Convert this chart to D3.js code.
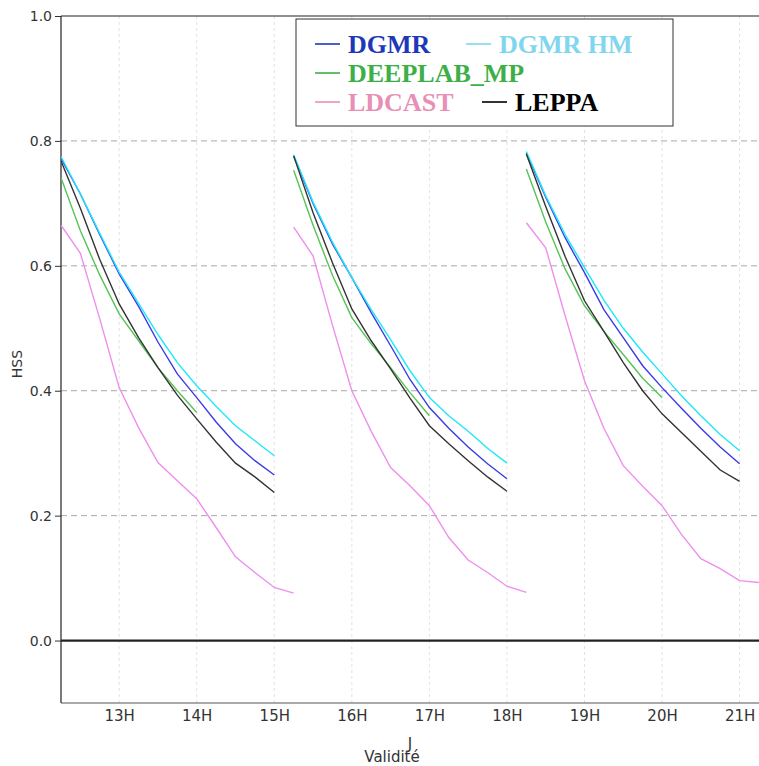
<!DOCTYPE html>
<html>
<head>
<meta charset="utf-8">
<script src="https://cdn.jsdelivr.net/npm/d3@7"></script>
<style>
  body { margin: 0; background: #fff; }
  svg { display: block; }
  .tick text { font-family: "DejaVu Sans", sans-serif; fill: #333; }
</style>
</head>
<body>
<svg id="chart" width="759" height="766"></svg>
<script>
// hours of the day, 15 min steps
const runStarts = [12.25, 15.25, 18.25];
const xTicks = [13, 14, 15, 16, 17, 18, 19, 20, 21];
const yTicks = [0.0, 0.2, 0.4, 0.6, 0.8, 1.0];

const dgmr = [
    [0.772, 0.715, 0.650, 0.587, 0.535, 0.478, 0.427, 0.389, 0.350, 0.315, 0.288, 0.265],
    [0.776, 0.700, 0.635, 0.581, 0.525, 0.472, 0.418, 0.373, 0.340, 0.310, 0.283, 0.259],
    [0.781, 0.710, 0.645, 0.589, 0.530, 0.485, 0.440, 0.405, 0.372, 0.340, 0.310, 0.283]
];
const dgmrHm = [
    [0.775, 0.715, 0.652, 0.590, 0.540, 0.490, 0.445, 0.408, 0.375, 0.344, 0.320, 0.296],
    [0.778, 0.702, 0.638, 0.581, 0.530, 0.482, 0.432, 0.389, 0.360, 0.335, 0.308, 0.284],
    [0.783, 0.712, 0.650, 0.597, 0.545, 0.500, 0.462, 0.427, 0.392, 0.360, 0.330, 0.304]
];
const deeplab = [
    [0.741, 0.656, 0.585, 0.523, 0.480, 0.437, 0.400, 0.365],
    [0.753, 0.665, 0.585, 0.517, 0.475, 0.437, 0.397, 0.360],
    [0.755, 0.670, 0.595, 0.536, 0.495, 0.458, 0.420, 0.389]
];
const ldcast = [
    [0.665, 0.620, 0.515, 0.405, 0.341, 0.285, 0.256, 0.227, 0.181, 0.134, 0.109, 0.085, 0.076],
    [0.662, 0.616, 0.505, 0.400, 0.335, 0.277, 0.248, 0.216, 0.165, 0.129, 0.109, 0.087, 0.077],
    [0.669, 0.629, 0.520, 0.416, 0.340, 0.280, 0.247, 0.216, 0.170, 0.131, 0.115, 0.096, 0.093]
];
const leppa = [
    [0.768, 0.692, 0.610, 0.539, 0.485, 0.437, 0.393, 0.355, 0.318, 0.284, 0.262, 0.237],
    [0.776, 0.685, 0.605, 0.531, 0.480, 0.435, 0.388, 0.344, 0.315, 0.288, 0.262, 0.239],
    [0.779, 0.695, 0.615, 0.544, 0.495, 0.445, 0.400, 0.363, 0.333, 0.303, 0.273, 0.255]
];

const series = [
    {name: 'DGMR', runs: dgmr, line: '#3b3be6', label: '#2038b8'},
    {name: 'DGMR HM', runs: dgmrHm, line: '#1ee8f8', label: '#7fd6ee'},
    {name: 'DEEPLAB_MP', runs: deeplab, line: '#55c455', label: '#3daf47'},
    {name: 'LDCAST', runs: ldcast, line: '#ee8fee', label: '#e88fb6'},
    {name: 'LEPPA', runs: leppa, line: '#333333', label: '#000000'}
];

const margin = {left: 61, top: 16, right: 0, bottom: 63};
const svg = d3.select('#chart');
const width = +svg.attr('width') - margin.left - margin.right;
const height = +svg.attr('height') - margin.top - margin.bottom;

const x = d3.scaleLinear().domain([12.25, 21.25]).range([0, width]);
const y = d3.scaleLinear().domain([-0.1, 1.0]).range([height, 0]);

const g = svg.append('g').attr('transform', `translate(${margin.left},${margin.top})`);

svg.append('defs').append('clipPath').attr('id', 'plotClip')
    .append('rect').attr('width', width).attr('height', height);

// GRID

g.selectAll('.vgrid')
    .data(xTicks)
    .enter()
    .append('line')
    .attr('class', 'vgrid')
    .attr('x1', d => x(d)).attr('x2', d => x(d))
    .attr('y1', 0).attr('y2', height)
    .attr('stroke', '#e2e2e2')
    .attr('stroke-dasharray', '3,3');

g.selectAll('.hgrid')
    .data(yTicks.filter(d => d > 0 && d < 1))
    .enter()
    .append('line')
    .attr('class', 'hgrid')
    .attr('x1', 0).attr('x2', width)
    .attr('y1', d => y(d)).attr('y2', d => y(d))
    .attr('stroke', '#a8a8a8')
    .attr('stroke-dasharray', '6,4');

// AXES

const yAxis = g.append('g')
    .call(d3.axisLeft(y).tickValues(yTicks).tickFormat(d3.format('.1f')).tickSize(6).tickPadding(3));
yAxis.selectAll('text').style('font-size', '14px');
yAxis.select('.domain').remove();
yAxis.selectAll('.tick line').attr('stroke', '#333');

const xAxis = g.append('g')
    .attr('transform', `translate(0,${height})`)
    .call(d3.axisBottom(x).tickValues(xTicks).tickFormat(d => `${d}H`).tickSize(0).tickPadding(7));
xAxis.selectAll('text').style('font-size', '15px');
xAxis.select('.domain').remove();

g.append('line').attr('x1', 0).attr('x2', 0).attr('y1', 0).attr('y2', height)
    .attr('stroke', '#222').attr('stroke-width', 1.2);
g.append('line').attr('x1', 0).attr('x2', width).attr('y1', height).attr('y2', height)
    .attr('stroke', '#555').attr('stroke-width', 1.2);
g.append('line').attr('x1', 0).attr('x2', width).attr('y1', 0).attr('y2', 0)
    .attr('stroke', '#222').attr('stroke-width', 1.2);
g.append('line').attr('x1', 0).attr('x2', width).attr('y1', y(0)).attr('y2', y(0))
    .attr('stroke', '#222').attr('stroke-width', 2.2);

// LINES

const line = d3.line()
    .x(d => x(d.t))
    .y(d => y(d.v));

const lineData = [];
series.forEach(s => {
    s.runs.forEach((vals, r) => {
        lineData.push({
            color: s.line,
            points: vals.map((v, i) => ({t: runStarts[r] + i * 0.25, v: v}))
        });
    });
});

g.append('g').attr('clip-path', 'url(#plotClip)')
    .selectAll('.series')
    .data(lineData)
    .enter()
    .append('path')
    .attr('class', 'series')
    .attr('fill', 'none')
    .attr('stroke', d => d.color)
    .attr('stroke-width', 1.4)
    .attr('d', d => line(d.points));

// LEGEND

const legend = svg.append('g');
legend.append('rect')
    .attr('x', 296).attr('y', 19).attr('width', 377).attr('height', 107)
    .attr('fill', '#fff').attr('stroke', '#333').attr('stroke-width', 1);

const legendPos = [
    {x: 315, y: 53}, {x: 466, y: 53},
    {x: 315, y: 82},
    {x: 315, y: 111}, {x: 482, y: 111}
];
const items = legend.selectAll('.item')
    .data(series)
    .enter()
    .append('g')
    .attr('class', 'item')
    .attr('transform', (d, i) => `translate(${legendPos[i].x},${legendPos[i].y})`);
items.append('line')
    .attr('x1', 0).attr('x2', 25).attr('y1', -9).attr('y2', -9)
    .attr('stroke', d => d.label).attr('stroke-width', 1.6);
items.append('text')
    .attr('x', 33)
    .attr('font-family', '"Liberation Serif", serif')
    .attr('font-weight', 'bold')
    .attr('font-size', '26px')
    .attr('fill', d => d.label)
    .text(d => d.name);

// LABELS

svg.append('text')
    .attr('transform', 'translate(22,364) rotate(-90)')
    .attr('text-anchor', 'middle')
    .attr('font-family', '"DejaVu Sans", sans-serif')
    .attr('font-size', '14px')
    .attr('fill', '#333')
    .text('HSS');

svg.append('text')
    .attr('x', 410).attr('y', 749)
    .attr('text-anchor', 'middle')
    .attr('font-family', '"DejaVu Sans", sans-serif')
    .attr('font-size', '15px')
    .attr('fill', '#333')
    .text('J');

svg.append('text')
    .attr('x', 392).attr('y', 762)
    .attr('text-anchor', 'middle')
    .attr('font-family', '"DejaVu Sans", sans-serif')
    .attr('font-size', '15px')
    .attr('fill', '#333')
    .text('Validité');
</script>
</body>
</html>
